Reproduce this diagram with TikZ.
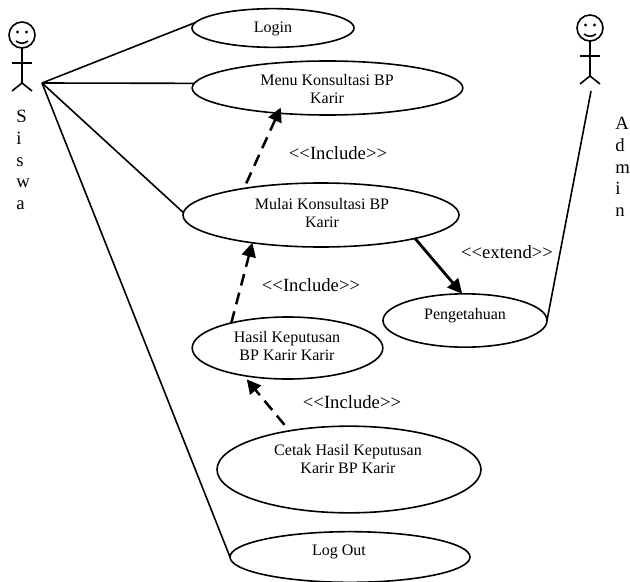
\documentclass[tikz,border=0pt]{standalone}
\usepackage{fontspec}
\setmainfont{Liberation Serif}
\usepackage{tikz}
\usetikzlibrary{arrows.meta,positioning,shapes.geometric,calc}

\tikzset{
  pics/actor/.style={code={
    \draw[line width=1.2pt] (0,0) circle (13);
    \fill (-4.5,-3) circle (1.7);
    \fill (4.5,-3) circle (1.7);
    \draw[line width=1.2pt] (-6,6) .. controls (-2,9) and (2,9) .. (6,6);
    \draw[line width=1.2pt] (0,13) -- (0,48);
    \draw[line width=1.2pt] (-10,28) -- (10,28);
    \draw[line width=1.2pt] (-10,56) -- (0,48) -- (10,56);
  }}
}

\begin{document}
\begin{tikzpicture}[
    x=0.75pt, y=-0.75pt,
    usecase/.style={ellipse, draw, line width=1.2pt, inner sep=0pt, outer sep=0pt},
    txt/.style={font=\fontsize{12}{13.5}\selectfont, align=center, inner sep=0pt},
    stereo/.style={font=\fontsize{14}{16}\selectfont, inner sep=0pt},
    letters/.style={font=\fontsize{14}{16.3}\selectfont, align=left, inner sep=0pt},
    assoc/.style={line width=1.2pt},
    incl/.style={-{Triangle[length=10.5pt,width=10.5pt]}, line width=1.9pt, dash pattern=on 9pt off 5.5pt},
    ext/.style={-{Triangle[length=11pt,width=10.5pt]}, line width=2.1pt}
]
\useasboundingbox (0,0) rectangle (630,581);

\node[usecase, minimum width=121.5pt, minimum height=29pt] (login) at (273,28) {};
\node[usecase, minimum width=203pt, minimum height=40.5pt] (menu) at (327.5,88) {};
\node[usecase, minimum width=207pt, minimum height=48pt] (mulai) at (321,215) {};
\node[usecase, minimum width=143pt, minimum height=46.5pt] (hasil) at (287.5,348) {};
\node[usecase, minimum width=198pt, minimum height=65pt] (cetak) at (349,469.5) {};
\node[usecase, minimum width=180pt, minimum height=38pt] (logout) at (350,557) {};
\node[usecase, minimum width=123pt, minimum height=40pt] (pengetahuan) at (465,320.5) {};

\node[txt] (logintxt) at (273,29) {Login};
\node[txt] (menutxt) at (327,89) {Menu Konsultasi BP\\Karir};
\node[txt] (mulaitxt) at (322,213.5) {Mulai Konsultasi BP\\Karir};
\node[txt] (hasiltxt) at (287,346) {Hasil Keputusan\\BP Karir Karir};
\node[txt] (cetaktxt) at (348,459) {Cetak Hasil Keputusan\\Karir BP Karir};
\node[txt] (logouttxt) at (339,552) {Log Out};
\node[txt] (pengetahuantxt) at (465,316) {Pengetahuan};

\node[stereo] (inc1) at (338,153) {<{}<Include>{}>};
\node[stereo] (inc2) at (311,285) {<{}<Include>{}>};
\node[stereo] (inc3) at (352,402) {<{}<Include>{}>};
\node[stereo] (ext1) at (507,252) {<{}<extend>{}>};

\pic at (22,35) {actor};
\pic at (590,28) {actor};
\coordinate (siswa) at (42,83);
\coordinate (admin) at (591,91);

\node[letters, anchor=north west] (siswatxt) at (16,110) {S\\i\\s\\w\\a};
\node[letters, anchor=north west] (admintxt) at (615,117) {A\\d\\m\\i\\n};

\draw[assoc] (siswa) -- (login.176.5);
\draw[assoc] (siswa) -- (menu.178);
\draw[assoc] (siswa) -- (mulai.179);
\draw[assoc] (siswa) -- (logout.west);
\draw[assoc] (admin) -- (pengetahuan.east);

\draw[incl, shorten <=4.2pt, shorten >=-4.6pt] (mulai.161) -- (menu.207.7);
\draw[incl] (hasil.156.5) -- (mulai.202.7);
\draw[incl, shorten <=5.8pt, shorten >=3.8pt] (cetak.147.8) -- (hasil.212.3);
\draw[ext] (mulai.-14.6) -- (pengetahuan.96);
\end{tikzpicture}
\end{document}
